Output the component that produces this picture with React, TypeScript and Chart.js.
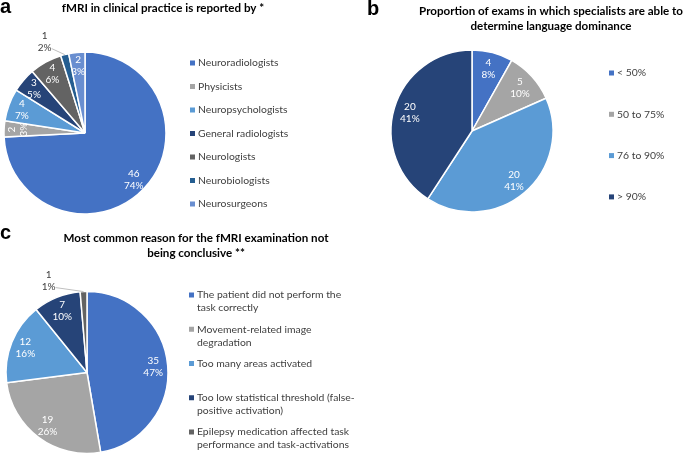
import React, { useEffect, useRef } from "react";
import { Chart, registerables } from "chart.js";

Chart.register(...registerables);

// ---------- data ----------
const aCategories = [
  "Neuroradiologists",
  "Physicists",
  "Neuropsychologists",
  "General radiologists",
  "Neurologists",
  "Neurobiologists",
  "Neurosurgeons",
];
const aValues = [46, 2, 4, 3, 4, 1, 2];
const aPercents = [74, 3, 7, 5, 6, 2, 3];
const aTitle = ["fMRI in clinical practice is reported by *"];

const bCategories = ["< 50%", "50 to 75%", "76 to 90%", "> 90%"];
const bValues = [4, 5, 20, 20];
const bPercents = [8, 10, 41, 41];
const bTitle = [
  "Proportion of exams in which specialists are able to",
  "determine language dominance",
];

const cCategories = [
  "The patient did not perform the task correctly",
  "Movement-related image degradation",
  "Too many areas activated",
  "Too low statistical threshold (false-positive activation)",
  "Epilepsy medication affected task performance and task-activations",
];
const cValues = [35, 19, 12, 7, 1];
const cPercents = [47, 26, 16, 10, 1];
const cTitle = [
  "Most common reason for the fMRI examination not",
  "being conclusive **",
];

// ---------- styles ----------
const BLUE = "#4472C4";
const GRAY = "#A5A5A5";
const LBLUE = "#5B9BD5";
const DBLUE = "#264478";
const DGRAY = "#636363";
const MBLUE = "#255E91";
const PBLUE = "#698ED0";

const W = 685;
const H = 455;
const FONT = "Lato, 'Open Sans', sans-serif";
const LETTER_FONT = "'Liberation Sans', Arial, sans-serif";

type Panel = {
  id: string;
  categories: string[];
  values: number[];
  percents: number[];
  colors: string[];
  title: string[];
  letter: string;
  letterX: number;
  letterY: number;
  titleCX: number;
  titleY: number;
  titleLH: number;
  cx: number;
  cy: number;
  r: number;
  labelR: number;
  legendX: number;
  legendY: number;
  legendStep: number;
  legendWrap: number;
  outsideIndex?: number;
  outsideDx?: number;
  outsideDy?: number;
  rotateIndex?: number;
};

const panels: Panel[] = [
  {
    id: "a",
    categories: aCategories,
    values: aValues,
    percents: aPercents,
    colors: [BLUE, GRAY, LBLUE, DBLUE, DGRAY, MBLUE, PBLUE],
    title: aTitle,
    letter: "a",
    letterX: 0,
    letterY: 13,
    titleCX: 163,
    titleY: 8,
    titleLH: 15,
    cx: 85,
    cy: 133,
    r: 81,
    labelR: 0.83,
    legendX: 190,
    legendY: 63,
    legendStep: 23.5,
    legendWrap: 200,
    outsideIndex: 5,
    outsideDx: -20,
    outsideDy: -13,
    rotateIndex: 1,
  },
  {
    id: "b",
    categories: bCategories,
    values: bValues,
    percents: bPercents,
    colors: [BLUE, GRAY, LBLUE, DBLUE],
    title: bTitle,
    letter: "b",
    letterX: 367,
    letterY: 15,
    titleCX: 551,
    titleY: 11,
    titleLH: 15,
    cx: 472,
    cy: 131,
    r: 81,
    labelR: 0.8,
    legendX: 609,
    legendY: 73,
    legendStep: 41.3,
    legendWrap: 200,
  },
  {
    id: "c",
    categories: cCategories,
    values: cValues,
    percents: cPercents,
    colors: [BLUE, GRAY, LBLUE, DBLUE, DGRAY],
    title: cTitle,
    letter: "c",
    letterX: 0,
    letterY: 239,
    titleCX: 196,
    titleY: 238,
    titleLH: 15.6,
    cx: 87,
    cy: 373,
    r: 81,
    labelR: 0.82,
    legendX: 189,
    legendY: 295,
    legendStep: 34.25,
    legendWrap: 162,
    outsideIndex: 4,
    outsideDx: -35,
    outsideDy: -11,
  },
];

// word wrap that may also break after a hyphen
function wrap(ctx: CanvasRenderingContext2D, text: string, maxW: number): string[] {
  const tokens: { t: string; sp: boolean }[] = [];
  text.split(" ").forEach((word, wi) => {
    const parts = word.split(/(?<=-)/);
    parts.forEach((pt, pi) => tokens.push({ t: pt, sp: wi > 0 && pi === 0 }));
  });
  const lines: string[] = [];
  let cur = "";
  for (const tk of tokens) {
    const test = cur ? cur + (tk.sp ? " " : "") + tk.t : tk.t;
    if (ctx.measureText(test).width > maxW && cur) {
      lines.push(cur);
      cur = tk.t;
    } else cur = test;
  }
  if (cur) lines.push(cur);
  return lines;
}

function makePlugin(p: Panel) {
  return {
    id: "panelDecor_" + p.id,
    afterDatasetsDraw(chart: any) {
      const ctx: CanvasRenderingContext2D = chart.ctx;
      const meta = chart.getDatasetMeta(0);
      const data = chart.data.datasets[0].data as number[];
      ctx.save();
      ctx.font = `10px ${FONT}`;
      ctx.textAlign = "center";
      ctx.textBaseline = "middle";
      meta.data.forEach((arc: any, i: number) => {
        const { x, y, startAngle, endAngle, outerRadius } = arc.getProps(
          ["x", "y", "startAngle", "endAngle", "outerRadius"],
          true
        );
        const mid = (startAngle + endAngle) / 2;
        const v = data[i];
        const pct = p.percents[i] + "%";
        const lh = 12;
        if (i === p.outsideIndex) {
          const ex = x + Math.cos(mid) * outerRadius;
          const ey = y + Math.sin(mid) * outerRadius;
          const lx = ex + (p.outsideDx || 0);
          const ly = ey + (p.outsideDy || 0);
          ctx.strokeStyle = "#BFBFBF";
          ctx.lineWidth = 1;
          ctx.beginPath();
          ctx.moveTo(lx + 7, ly + 7);
          ctx.lineTo(ex, ey);
          ctx.stroke();
          ctx.fillStyle = "#404040";
          ctx.fillText(String(v), lx, ly - lh / 2);
          ctx.fillText(pct, lx, ly + lh / 2);
        } else {
          const lx = x + Math.cos(mid) * outerRadius * p.labelR;
          const ly = y + Math.sin(mid) * outerRadius * p.labelR;
          ctx.fillStyle = "#FFFFFF";
          ctx.save();
          ctx.translate(lx, ly);
          if (i === p.rotateIndex) ctx.rotate(-Math.PI / 2);
          ctx.fillText(String(v), 0, -lh / 2);
          ctx.fillText(pct, 0, lh / 2);
          ctx.restore();
        }
      });
      ctx.restore();
    },
    afterDraw(chart: any) {
      const ctx: CanvasRenderingContext2D = chart.ctx;
      ctx.save();
      // panel letter
      ctx.fillStyle = "#000000";
      ctx.font = `bold 20px ${LETTER_FONT}`;
      ctx.textAlign = "left";
      ctx.textBaseline = "alphabetic";
      ctx.fillText(p.letter, p.letterX, p.letterY);
      // title
      ctx.font = `bold 11.6px ${FONT}`;
      ctx.textAlign = "center";
      ctx.textBaseline = "middle";
      ctx.fillStyle = "#000000";
      p.title.forEach((t, k) => ctx.fillText(t, p.titleCX, p.titleY + k * p.titleLH));
      // legend
      ctx.font = `10.4px ${FONT}`;
      ctx.textAlign = "left";
      const colors = chart.data.datasets[0].backgroundColor as string[];
      (chart.data.labels as string[]).forEach((lab, i) => {
        const y0 = p.legendY + i * p.legendStep;
        ctx.fillStyle = colors[i];
        ctx.fillRect(p.legendX, y0 - 2.5, 5, 5);
        ctx.fillStyle = "#404040";
        const lines = wrap(ctx, lab, p.legendWrap);
        lines.forEach((ln, k) => ctx.fillText(ln, p.legendX + 8, y0 + k * 13));
      });
      ctx.restore();
    },
  };
}

function PiePanel({ p }: { p: Panel }) {
  const ref = useRef<HTMLCanvasElement | null>(null);
  useEffect(() => {
    if (!ref.current) return;
    const m = 2;
    const chart = new Chart(ref.current, {
      type: "pie",
      data: {
        labels: p.categories,
        datasets: [
          {
            data: p.values,
            backgroundColor: p.colors,
            borderColor: "#FFFFFF",
            borderWidth: 1.5,
            hoverOffset: 0,
            clip: false as any,
          } as any,
        ],
      },
      options: {
        responsive: false,
        animation: false,
        devicePixelRatio: 1,
        radius: p.r,
        layout: {
          padding: {
            left: p.cx - p.r - m,
            right: W - (p.cx + p.r + m),
            top: p.cy - p.r - m,
            bottom: H - (p.cy + p.r + m),
          },
        },
        plugins: {
          legend: { display: false },
          title: { display: false },
          tooltip: { enabled: false },
        },
        events: [],
      } as any,
      plugins: [makePlugin(p)],
    });
    return () => chart.destroy();
  }, [p]);
  return (
    <canvas
      ref={ref}
      width={W}
      height={H}
      style={{ position: "absolute", left: 0, top: 0, width: W, height: H }}
    />
  );
}

export default function App() {
  return (
    <div
      style={{
        position: "fixed",
        left: 0,
        top: 0,
        width: W,
        height: H,
        background: "#FFFFFF",
      }}
    >
      {panels.map((p) => (
        <PiePanel key={p.id} p={p} />
      ))}
    </div>
  );
}
